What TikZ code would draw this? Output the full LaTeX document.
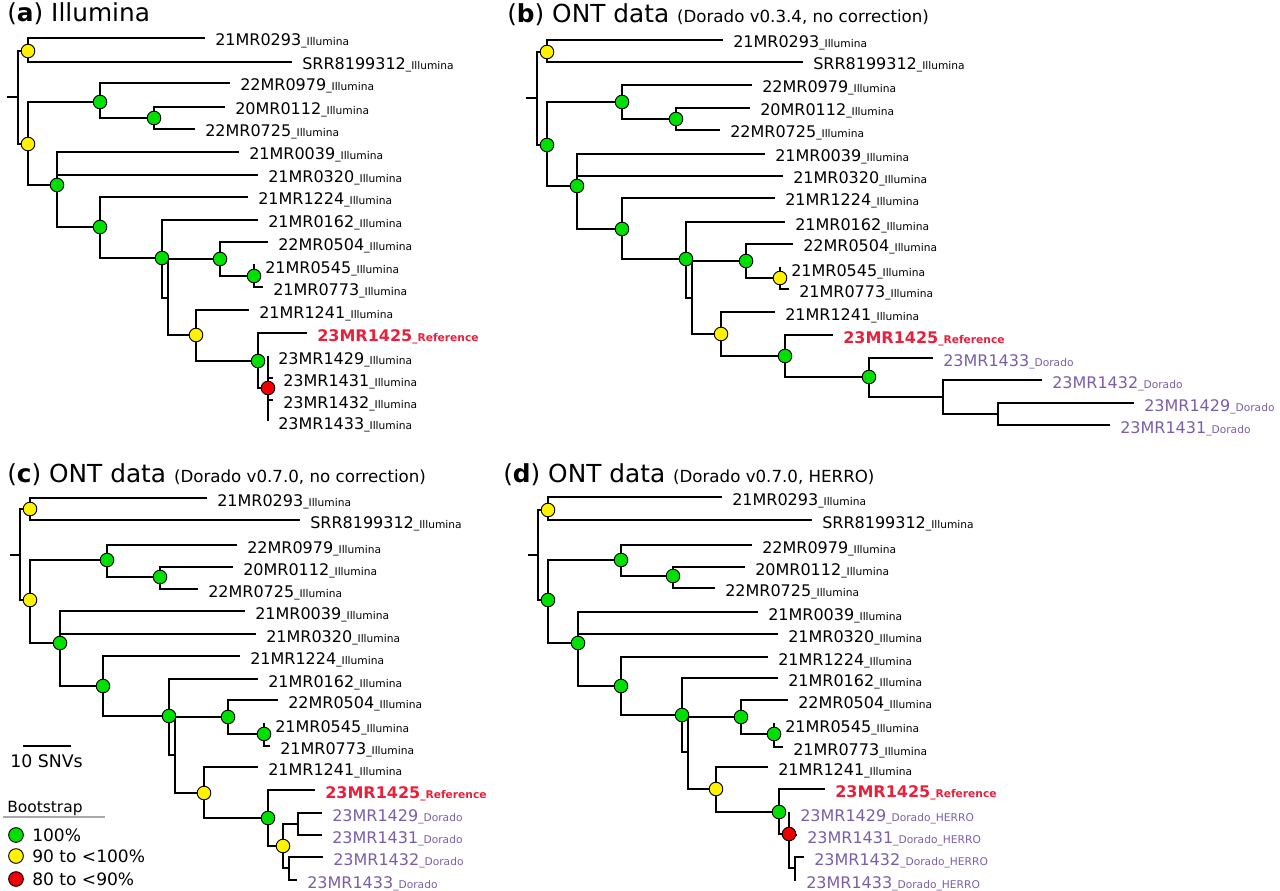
\documentclass[tikz,border=0pt]{standalone}
\usepackage{fontspec}
\setmainfont{DejaVu Sans}
\usepackage{xcolor}
\usepackage{tikz}
\usetikzlibrary{calc}
\definecolor{bsgreen}{HTML}{00E000}
\definecolor{bsyellow}{HTML}{FFF200}
\definecolor{bsred}{HTML}{F00000}
\definecolor{refred}{HTML}{E8203C}
\definecolor{ontpurple}{HTML}{7B5EA7}
\definecolor{rulegray}{HTML}{A8A8A8}
\newcommand{\sfx}[1]{{\fontsize{8}{9}\selectfont\_#1}}
\tikzset{
  branch/.style={line width=2.1pt},
  bsnode/.style={circle, draw=black, line width=0.7pt, inner sep=0pt, minimum size=10.2pt},
  bsfull/.style={bsnode, fill=bsgreen},
  bshigh/.style={bsnode, fill=bsyellow},
  bslow/.style={bsnode, fill=bsred},
  lab/.style={anchor=base west, inner sep=0pt, xshift=7.5pt, yshift=-6pt,
              font=\fontsize{12}{14}\selectfont},
  reflab/.style={lab, text=refred, font=\fontsize{12}{14}\selectfont\bfseries},
  ontlab/.style={lab, text=ontpurple},
  title/.style={anchor=base west, inner sep=0pt, font=\fontsize{18.6}{21}\selectfont},
}

\begin{document}
\begin{tikzpicture}[x=0.75pt, y=-0.75pt]
  \useasboundingbox (0,0) rectangle (1280,891);

  % ---------- (a) Illumina ----------
  \node[title] (atitle) at (7,22) {(\textbf{a}) Illumina};
  \foreach \n/\x/\y in {aS/7/97, aR/18/97, a1/28/51, a2/28/144, a3/100/102, a4/154/118,
      a5/57/185, a6/100/227, a7/162/258, a8/168/298, a9/220/259, a10/254/276,
      a11/196/335, a12/258/361, a13/268/388}
    \coordinate (\n) at (\x,\y);
  \foreach \n/\x/\y/\t in {aL1/205/38/21MR0293, aL2/292/62/SRR8199312, aL3/230/83/22MR0979,
      aL4/225/107/20MR0112, aL5/195/129/22MR0725, aL6/239/152/21MR0039, aL7/258/175/21MR0320,
      aL8/248/197/21MR1224, aL9/258/220/21MR0162, aL10/268/242/22MR0504, aL11/255/265/21MR0545,
      aL12/263/287/21MR0773, aL13/249/310/21MR1241, aL15/268/356/23MR1429,
      aL16/273/378/23MR1431, aL17/273/400/23MR1432, aL18/268/421/23MR1433}{
    \coordinate (\n) at (\x,\y);
    \node[lab] (t\n) at (\n) {\t\sfx{Illumina}};
  }
  \coordinate (aL14) at (307,333);
  \node[reflab] (taL14) at (aL14) {23MR1425\sfx{Reference}};
  \draw[branch] (aS) -- (aR);
  \foreach \p/\c in {aR/a1, aR/a2, a1/aL1, a1/aL2, a2/a3, a2/a5, a3/aL3, a3/a4, a4/aL4,
      a4/aL5, a5/aL6, a5/aL7, a5/a6, a6/aL8, a6/a7, a7/aL9, a7/a8, a8/a9, a8/a11,
      a9/aL10, a9/a10, a10/aL11, a10/aL12, a11/aL13, a11/a12, a12/aL14, a12/a13,
      a13/aL15, a13/aL16, a13/aL17, a13/aL18}
    \draw[branch] (\p) |- (\c);
  \foreach \n/\s in {a1/bshigh, a2/bshigh, a3/bsfull, a4/bsfull, a5/bsfull, a6/bsfull,
      a7/bsfull, a9/bsfull, a10/bsfull, a11/bshigh, a12/bsfull, a13/bslow}
    \node[\s] (c\n) at (\n) {};

  % ---------- (b) ONT, Dorado v0.3.4 ----------
  \node[title] (btitle) at (507,23) {(\textbf{b}) ONT data {\fontsize{12.5}{14}\selectfont (Dorado v0.3.4, no correction)}};
  \foreach \n/\x/\y in {bS/526/98, bR/537/98, b1/547/52, b2/547/145, b3/622/102, b4/676/119,
      b5/577/186, b6/622/229, b7/686/259, b8/692/298, b9/746/261, b10/780/278,
      b11/721/334, b12/785/356, b13/869/377, b14/943/397, b15/998/414}
    \coordinate (\n) at (\x,\y);
  \foreach \n/\x/\y/\t in {bL1/723/40/21MR0293, bL2/803/62/SRR8199312, bL3/752/85/22MR0979,
      bL4/750/108/20MR0112, bL5/720/130/22MR0725, bL6/765/154/21MR0039, bL7/783/176/21MR0320,
      bL8/775/198/21MR1224, bL9/785/222/21MR0162, bL10/793/244/22MR0504, bL11/781/268/21MR0545,
      bL12/789/289/21MR0773, bL13/775/312/21MR1241}{
    \coordinate (\n) at (\x,\y);
    \node[lab] (t\n) at (\n) {\t\sfx{Illumina}};
  }
  \foreach \n/\x/\y/\t in {bL15/933/358/23MR1433, bL16/1042/380/23MR1432,
      bL17/1134/403/23MR1429, bL18/1110/425/23MR1431}{
    \coordinate (\n) at (\x,\y);
    \node[ontlab] (t\n) at (\n) {\t\sfx{Dorado}};
  }
  \coordinate (bL14) at (833,335);
  \node[reflab] (tbL14) at (bL14) {23MR1425\sfx{Reference}};
  \draw[branch] (bS) -- (bR);
  \foreach \p/\c in {bR/b1, bR/b2, b1/bL1, b1/bL2, b2/b3, b2/b5, b3/bL3, b3/b4, b4/bL4,
      b4/bL5, b5/bL6, b5/bL7, b5/b6, b6/bL8, b6/b7, b7/bL9, b7/b8, b8/b9, b8/b11,
      b9/bL10, b9/b10, b10/bL11, b10/bL12, b11/bL13, b11/b12, b12/bL14, b12/b13,
      b13/bL15, b13/b14, b14/bL16, b14/b15, b15/bL17, b15/bL18}
    \draw[branch] (\p) |- (\c);
  \foreach \n/\s in {b1/bshigh, b2/bsfull, b3/bsfull, b4/bsfull, b5/bsfull, b6/bsfull,
      b7/bsfull, b9/bsfull, b10/bshigh, b11/bshigh, b12/bsfull, b13/bsfull}
    \node[\s] (c\n) at (\n) {};

  % ---------- (c) ONT, Dorado v0.7.0 ----------
  \node[title] (ctitle) at (7,482) {(\textbf{c}) ONT data {\fontsize{12.5}{14}\selectfont (Dorado v0.7.0, no correction)}};
  \foreach \n/\x/\y in {cS/10/555, cR/20/555, c1/30/509, c2/30/600, c3/107/560, c4/160/577,
      c5/60/643, c6/103/686, c7/169/716, c8/175/755, c9/228/717, c10/264/734,
      c11/204/793, c12/268/818, c13/283/846, c14/298/824, c15/289/868}
    \coordinate (\n) at (\x,\y);
  \foreach \n/\x/\y/\t in {cL1/207/498/21MR0293, cL2/300/520/SRR8199312, cL3/237/545/22MR0979,
      cL4/233/567/20MR0112, cL5/198/589/22MR0725, cL6/245/611/21MR0039, cL7/256/634/21MR0320,
      cL8/240/656/21MR1224, cL9/258/679/21MR0162, cL10/278/700/22MR0504, cL11/265/724/21MR0545,
      cL12/270/746/21MR0773, cL13/258/767/21MR1241}{
    \coordinate (\n) at (\x,\y);
    \node[lab] (t\n) at (\n) {\t\sfx{Illumina}};
  }
  \foreach \n/\x/\y/\t in {cL15/322/813/23MR1429, cL16/322/835/23MR1431,
      cL17/323/857/23MR1432, cL18/297/880/23MR1433}{
    \coordinate (\n) at (\x,\y);
    \node[ontlab] (t\n) at (\n) {\t\sfx{Dorado}};
  }
  \coordinate (cL14) at (315,790);
  \node[reflab] (tcL14) at (cL14) {23MR1425\sfx{Reference}};
  \draw[branch] (cS) -- (cR);
  \foreach \p/\c in {cR/c1, cR/c2, c1/cL1, c1/cL2, c2/c3, c2/c5, c3/cL3, c3/c4, c4/cL4,
      c4/cL5, c5/cL6, c5/cL7, c5/c6, c6/cL8, c6/c7, c7/cL9, c7/c8, c8/c9, c8/c11,
      c9/cL10, c9/c10, c10/cL11, c10/cL12, c11/cL13, c11/c12, c12/cL14, c12/c13,
      c13/c14, c13/c15, c14/cL15, c14/cL16, c15/cL17, c15/cL18}
    \draw[branch] (\p) |- (\c);
  \foreach \n/\s in {c1/bshigh, c2/bshigh, c3/bsfull, c4/bsfull, c5/bsfull, c6/bsfull,
      c7/bsfull, c9/bsfull, c10/bsfull, c11/bshigh, c12/bsfull, c13/bshigh}
    \node[\s] (c\n) at (\n) {};

  % ---------- (d) ONT, Dorado v0.7.0 + HERRO ----------
  \node[title] (dtitle) at (503,482) {(\textbf{d}) ONT data {\fontsize{12.5}{14}\selectfont (Dorado v0.7.0, HERRO)}};
  \foreach \n/\x/\y in {dS/528/555, dR/538/555, d1/548/510, d2/548/600, d3/621/560, d4/673/576,
      d5/578/643, d6/621/686, d7/682/715, d8/688/752, d9/741/717, d10/774/734,
      d11/716/789, d12/779/812, d13/789/834, d14/795/868}
    \coordinate (\n) at (\x,\y);
  \foreach \n/\x/\y/\t in {dL1/722/497/21MR0293, dL2/812/520/SRR8199312, dL3/752/545/22MR0979,
      dL4/745/567/20MR0112, dL5/715/588/22MR0725, dL6/758/612/21MR0039, dL7/778/634/21MR0320,
      dL8/768/657/21MR1224, dL9/778/678/21MR0162, dL10/788/700/22MR0504, dL11/775/724/21MR0545,
      dL12/783/747/21MR0773, dL13/768/767/21MR1241}{
    \coordinate (\n) at (\x,\y);
    \node[lab] (t\n) at (\n) {\t\sfx{Illumina}};
  }
  \foreach \n/\x/\y/\t in {dL15/790/813/23MR1429, dL16/797/835/23MR1431,
      dL17/804/857/23MR1432, dL18/796/880/23MR1433}{
    \coordinate (\n) at (\x,\y);
    \node[ontlab] (t\n) at (\n) {\t\sfx{Dorado\_HERRO}};
  }
  \coordinate (dL14) at (825,789);
  \node[reflab] (tdL14) at (dL14) {23MR1425\sfx{Reference}};
  \draw[branch] (dS) -- (dR);
  \foreach \p/\c in {dR/d1, dR/d2, d1/dL1, d1/dL2, d2/d3, d2/d5, d3/dL3, d3/d4, d4/dL4,
      d4/dL5, d5/dL6, d5/dL7, d5/d6, d6/dL8, d6/d7, d7/dL9, d7/d8, d8/d9, d8/d11,
      d9/dL10, d9/d10, d10/dL11, d10/dL12, d11/dL13, d11/d12, d12/dL14, d12/d13,
      d13/dL15, d13/dL16, d13/d14, d14/dL17, d14/dL18}
    \draw[branch] (\p) |- (\c);
  \foreach \n/\s in {d1/bshigh, d2/bsfull, d3/bsfull, d4/bsfull, d5/bsfull, d6/bsfull,
      d7/bsfull, d9/bsfull, d10/bsfull, d11/bshigh, d12/bsfull, d13/bslow}
    \node[\s] (c\n) at (\n) {};

  % ---------- scale bar and legend ----------
  \coordinate (sb1) at (23,746);
  \coordinate (sb2) at (71,746);
  \draw[branch] (sb1) -- (sb2);
  \node[anchor=base west, inner sep=0pt, font=\fontsize{13}{15}\selectfont] (sbtext) at (10,767) {10 SNVs};
  \node[anchor=base west, inner sep=0pt, font=\fontsize{11.6}{14}\selectfont] (legtitle) at (7,812) {Bootstrap};
  \coordinate (rule1) at (3,817);
  \coordinate (rule2) at (105,817);
  \draw[rulegray, line width=0.8pt] (rule1) -- (rule2);
  \foreach \n/\y/\s/\t in {lg1/835/bsfull/100\%, lg2/856/bshigh/90 to <100\%, lg3/879/bslow/80 to <90\%}{
    \node[\s, minimum size=11pt] (\n) at (16,\y) {};
    \node[anchor=base west, inner sep=0pt, font=\fontsize{12.8}{15}\selectfont] (t\n) at (32,\y+6) {\t};
  }
\end{tikzpicture}
\end{document}
